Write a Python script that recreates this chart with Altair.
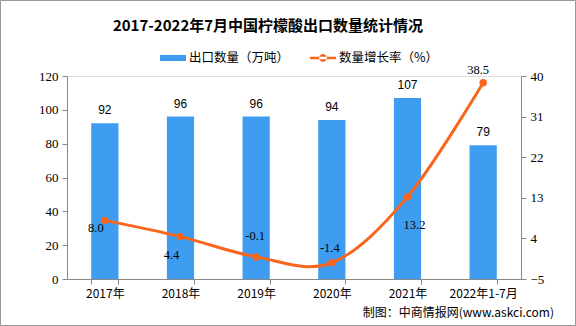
import altair as alt
import pandas as pd

categories = ["2017年", "2018年", "2019年", "2020年", "2021年", "2022年1-7月"]
export_volume = [92, 96, 96, 94, 107, 79]
growth_rate = [8.0, 4.4, -0.1, -1.4, 13.2, 38.5]
left_ticks = [0, 20, 40, 60, 80, 100, 120]
right_ticks = [-5, 4, 13, 22, 31, 40]

S1 = "出口数量（万吨）"
S2 = "数量增长率（%）"

df = pd.DataFrame({"cat": categories, "vol": export_volume, "rate": growth_rate})

BLUE = "#3E9DF0"
ORANGE = "#F9661E"
GRAY = "#888888"
CJK = "Noto Sans CJK SC"
NUM = "Liberation Serif"

# style: label offsets (dx, dy) for growth-rate labels
rate_label_offsets = {
    "2017年": (-9, 8),
    "2018年": (-9, 18),
    "2019年": (-1, -21),
    "2020年": (-2, -15),
    "2021年": (7, 28),
    "2022年1-7月": (-5, -13),
}

xenc = alt.X("cat:N", sort=categories, title=None,
             scale=alt.Scale(paddingInner=0.64, paddingOuter=0.32),
             axis=alt.Axis(labelAngle=0, labelFont=CJK, labelFontSize=12, labelColor="#000",
                           domainColor=GRAY, tickColor=GRAY, tickSize=5, tickBand="extent",
                           labelPadding=4))

legend_common = dict(title=None, orient="none", direction="horizontal",
                     symbolSize=676, labelFont=CJK, labelFontSize=12.5, labelColor="#000",
                     labelOffset=3, symbolStrokeWidth=0)
legend1 = alt.Legend(legendX=93, legendY=-31, symbolType="M-1,-0.23H1V0.23H-1Z",
                     symbolFillColor=BLUE, **legend_common)
legend2 = alt.Legend(legendX=243, legendY=-31,
                     symbolType="M-1,-0.1H1V0.1H-1Z M-0.3,0A0.3,0.3 0 1,0 0.3,0A0.3,0.3 0 1,0 -0.3,0Z",
                     symbolFillColor=ORANGE, **legend_common)

base = alt.Chart(df).transform_calculate(
    lbl="replace(format(datum.rate, '.1f'), '\u2212', '-')")

yl_scale = alt.Scale(domain=[0, 120])
yl_axis = alt.Axis(values=left_ticks, grid=False, labelFont=NUM, labelFontSize=13,
                   labelColor="#000", domainColor=GRAY, tickColor=GRAY, tickSize=5,
                   labelPadding=4)
yl = alt.Y("vol:Q", title=None, scale=yl_scale, axis=yl_axis)
bars = base.mark_bar(color=BLUE).encode(
    x=xenc, y=yl,
    color=alt.Color("s:N", scale=alt.Scale(domain=[S1], range=[BLUE]), legend=legend1),
).transform_calculate(s="'" + S1 + "'")
bar_text = base.mark_text(font="Liberation Sans", fontSize=12, color="#000", dy=-13).encode(
    x=xenc, y=yl, text=alt.Text("vol:Q"))
left = alt.layer(bars, bar_text)

yr_scale = alt.Scale(domain=[-5, 40])
yr_axis = alt.Axis(values=right_ticks, grid=False, orient="right", labelFont=NUM,
                   labelFontSize=13, labelColor="#000", domainColor=GRAY, tickColor=GRAY,
                   tickSize=5, labelPadding=4)
yr = alt.Y("rate:Q", title=None, scale=yr_scale, axis=yr_axis)
line = base.mark_line(strokeWidth=3, interpolate="cardinal").encode(
    x=xenc, y=yr,
    color=alt.Color("s:N", scale=alt.Scale(domain=[S2], range=[ORANGE]), legend=legend2),
).transform_calculate(s="'" + S2 + "'")
pts = base.mark_point(filled=True, size=55, opacity=1, color=ORANGE).encode(x=xenc, y=yr)
rate_texts = []
for c in categories:
    dx, dy = rate_label_offsets[c]
    rate_texts.append(
        base.transform_filter(alt.datum.cat == c).mark_text(
            font=NUM, fontSize=12.5, color="#000", dx=dx, dy=dy).encode(
            x=xenc, y=yr, text=alt.Text("lbl:N")))
right = alt.layer(line, pts, *rate_texts)

source = alt.Chart(df).mark_text(align="right", baseline="middle", font=CJK, fontSize=12,
                                 color="#000").encode(
    x=alt.value(487), y=alt.value(237), text=alt.value("制图：中商情报网(www.askci.com)")
).transform_filter(alt.datum.cat == categories[0])

frame = alt.Chart(df).mark_rect(fill=None, stroke="#999999", strokeWidth=1).encode(
    x=alt.value(-66.5), x2=alt.value(508.5), y=alt.value(-75.5), y2=alt.value(249.5)
).transform_filter(alt.datum.cat == categories[0])

chart = alt.layer(left, right, source, frame).resolve_scale(
    y="independent", color="independent").properties(
    width=454, height=203,
    autosize=alt.AutoSizeParams(type="none"),
    padding={"left": 67, "top": 76, "right": 55, "bottom": 47},
    title=alt.TitleParams("2017-2022年7月中国柠檬酸出口数量统计情况", font=CJK, fontSize=15,
                          fontWeight="bold", color="#000", anchor="middle", frame="group",
                          dx=-26, offset=-34),
).configure_view(stroke=None).configure(background="white")

chart.save("out.html", embed_options={"renderer": "svg", "actions": False})
